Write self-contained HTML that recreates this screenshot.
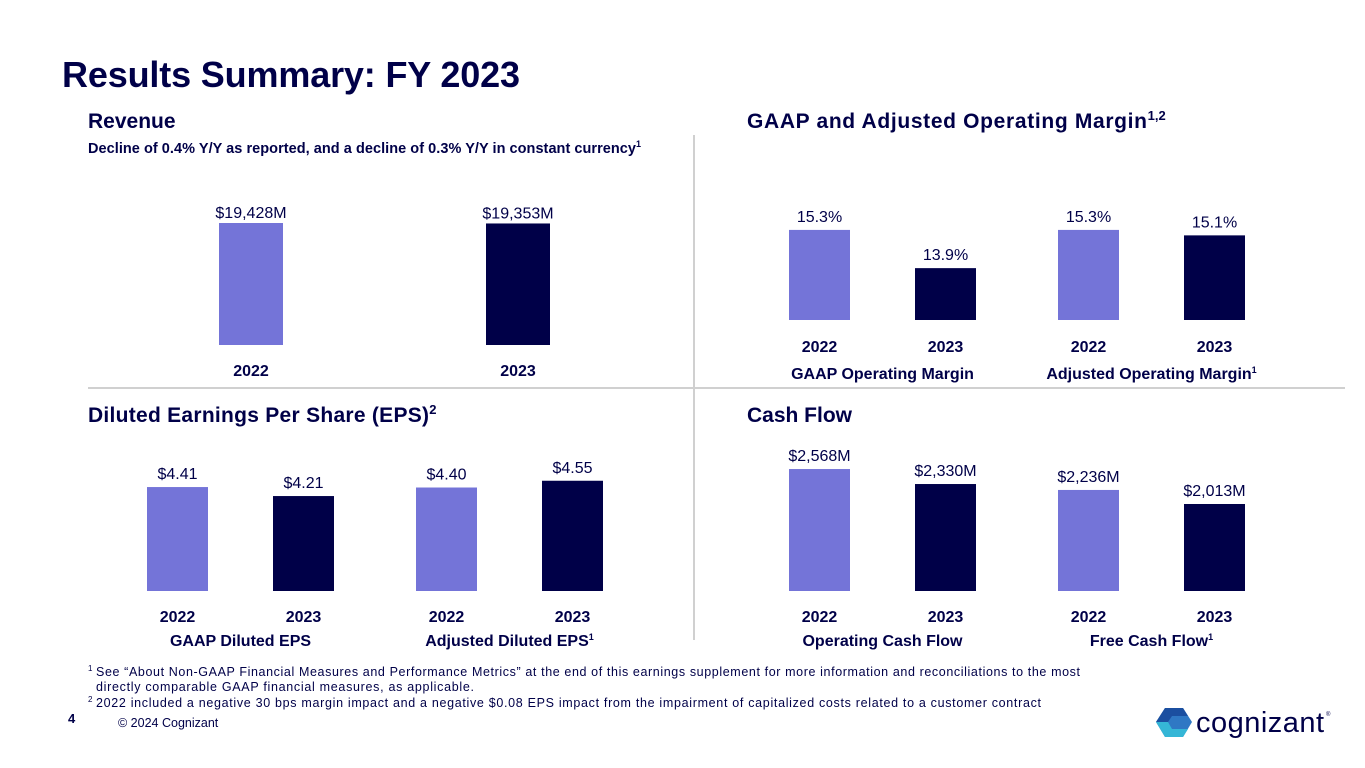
<!DOCTYPE html>
<html><head><meta charset="utf-8"><style>
body{margin:0;width:1365px;height:768px;background:#fff;overflow:hidden;font-family:"Liberation Sans",sans-serif}
svg{display:block}
</style></head><body>
<svg id="s" width="1365" height="768" xmlns="http://www.w3.org/2000/svg" font-family="Liberation Sans, sans-serif" fill="#000048">
<text x="62" y="87" font-size="36" font-weight="bold" textLength="458">Results Summary: FY 2023</text>
<text x="88" y="128" font-size="21" font-weight="bold">Revenue</text>
<text x="88" y="153" font-size="14.5" font-weight="bold"><tspan textLength="548">Decline of 0.4% Y/Y as reported, and a decline of 0.3% Y/Y in constant currency</tspan><tspan font-size="9" dy="-6">1</tspan></text>
<text x="747" y="128" font-size="21" font-weight="bold"><tspan textLength="400">GAAP and Adjusted Operating Margin</tspan><tspan font-size="13" dy="-8">1,2</tspan></text>
<text x="88" y="422" font-size="21" font-weight="bold"><tspan textLength="341">Diluted Earnings Per Share (EPS)</tspan><tspan font-size="13" dy="-8">2</tspan></text>
<text x="747" y="422" font-size="21" font-weight="bold">Cash Flow</text>
<line x1="694" y1="135" x2="694" y2="640" stroke="#d0d0d0" stroke-width="2"/>
<line x1="88" y1="388" x2="1345" y2="388" stroke="#d0d0d0" stroke-width="2"/>
<g id="charts"></g>
<g font-size="12.5" fill="#000048">
<text x="88" y="676"><tspan font-size="8" dy="-5">1</tspan><tspan x="96" dy="5" textLength="984">See “About Non-GAAP Financial Measures and Performance Metrics” at the end of this earnings supplement for more information and reconciliations to the most</tspan></text>
<text x="96" y="691" textLength="378">directly comparable GAAP financial measures, as applicable.</text>
<text x="88" y="707"><tspan font-size="8" dy="-5">2</tspan><tspan x="96" dy="5" textLength="945">2022 included a negative 30 bps margin impact and a negative $0.08 EPS impact from the impairment of capitalized costs related to a customer contract</tspan></text>
</g>
<text x="68" y="723" font-size="13" font-weight="bold">4</text>
<text x="118" y="727" font-size="12.5">© 2024 Cognizant</text>
<g>
<polygon points="1165,708 1183,708 1192,722 1183,737 1165,737 1156,722" fill="#2f78c4"/>
<polygon points="1165,708 1183,708 1188,716 1172,716 1168,722 1156,722" fill="#1b4fa0"/>
<polygon points="1156,722 1168,722 1172,729 1188,729 1183,737 1165,737" fill="#35b6d6"/>
<text x="1196" y="732" font-size="29" fill="#000048" textLength="128">cognizant</text>
<text x="1326" y="716" font-size="6" fill="#000048">®</text>
</g>
</svg>
<script>
const revCats=["2022","2023"];
const revVals=[19428,19353];
const revLabels=["$19,428M","$19,353M"];
const gaapMarginVals=[15.3,13.9];
const adjMarginVals=[15.3,15.1];
const gaapEpsVals=[4.41,4.21];
const adjEpsVals=[4.40,4.55];
const opCashVals=[2568,2330];
const freeCashVals=[2236,2013];
const cashLabels=["$2,568M","$2,330M","$2,236M","$2,013M"];
const years=["2022","2023"];
const NS="http://www.w3.org/2000/svg";
const g=document.getElementById('charts');
function el(t,a){const e=document.createElementNS(NS,t);for(const k in a)e.setAttribute(k,a[k]);g.appendChild(e);return e;}
function bar(x,w,base,h,col,name){const r=el('rect',{x:x,y:base-h,width:w,height:h,fill:col});

return base-h;}
function txt(x,y,s,sz,bold,name){const t=el('text',{x:x,y:y,'text-anchor':'middle','font-size':sz,'font-weight':bold?'bold':'normal',fill:'#000048'});t.textContent=s;

return t;}
const L="#7474d8",D="#000048";
const revY=v=>v*122/19428;
[219,486].forEach((x,i)=>{const top=bar(x,64,345,revY(revVals[i]),i?D:L,'revenue-bar-'+revCats[i]);
txt(x+32,top-5,revLabels[i],16,false,'revenue-value-'+revCats[i]);
txt(x+32,376,revCats[i],16,true,'revenue-year-'+revCats[i]);});
const mY=v=>(v-12)*27.3;
function pair(xs,vals,base,sc,fmt,yl,cat,catY,sup,nm){xs.forEach((x,i)=>{const top=bar(x,61,base,sc(vals[i]),i?D:L,nm+'-bar-'+years[i]);
txt(x+30.5,top-8,fmt(vals[i],i),16,false,nm+'-value-'+years[i]);
txt(x+30.5,yl,years[i],16,true,nm+'-year-'+years[i]);});
const t=txt((xs[0]+xs[1]+61)/2,catY,cat,16,true,nm+'-category-label');
if(sup){const s=document.createElementNS(NS,'tspan');s.setAttribute('font-size','9');s.setAttribute('dy','-6');s.textContent=sup;t.appendChild(s);}}
pair([789,915],gaapMarginVals,320,mY,v=>v.toFixed(1)+'%',352,'GAAP Operating Margin',379,'','gaap-margin');
pair([1058,1184],adjMarginVals,320,mY,v=>v.toFixed(1)+'%',352,'Adjusted Operating Margin',379,'1','adj-margin');
const eY=v=>(v-2.1)*45;
pair([147,273],gaapEpsVals,591,eY,v=>'$'+v.toFixed(2),622,'GAAP Diluted EPS',646,'','gaap-eps');
pair([416,542],adjEpsVals,591,eY,v=>'$'+v.toFixed(2),622,'Adjusted Diluted EPS',646,'1','adj-eps');
const cY=v=>(v-632)*0.063;
pair([789,915],opCashVals,591,cY,(v,i)=>cashLabels[i],622,'Operating Cash Flow',646,'','op-cash');
pair([1058,1184],freeCashVals,591,cY,(v,i)=>cashLabels[i+2],622,'Free Cash Flow',646,'1','free-cash');
</script>
</body></html>
